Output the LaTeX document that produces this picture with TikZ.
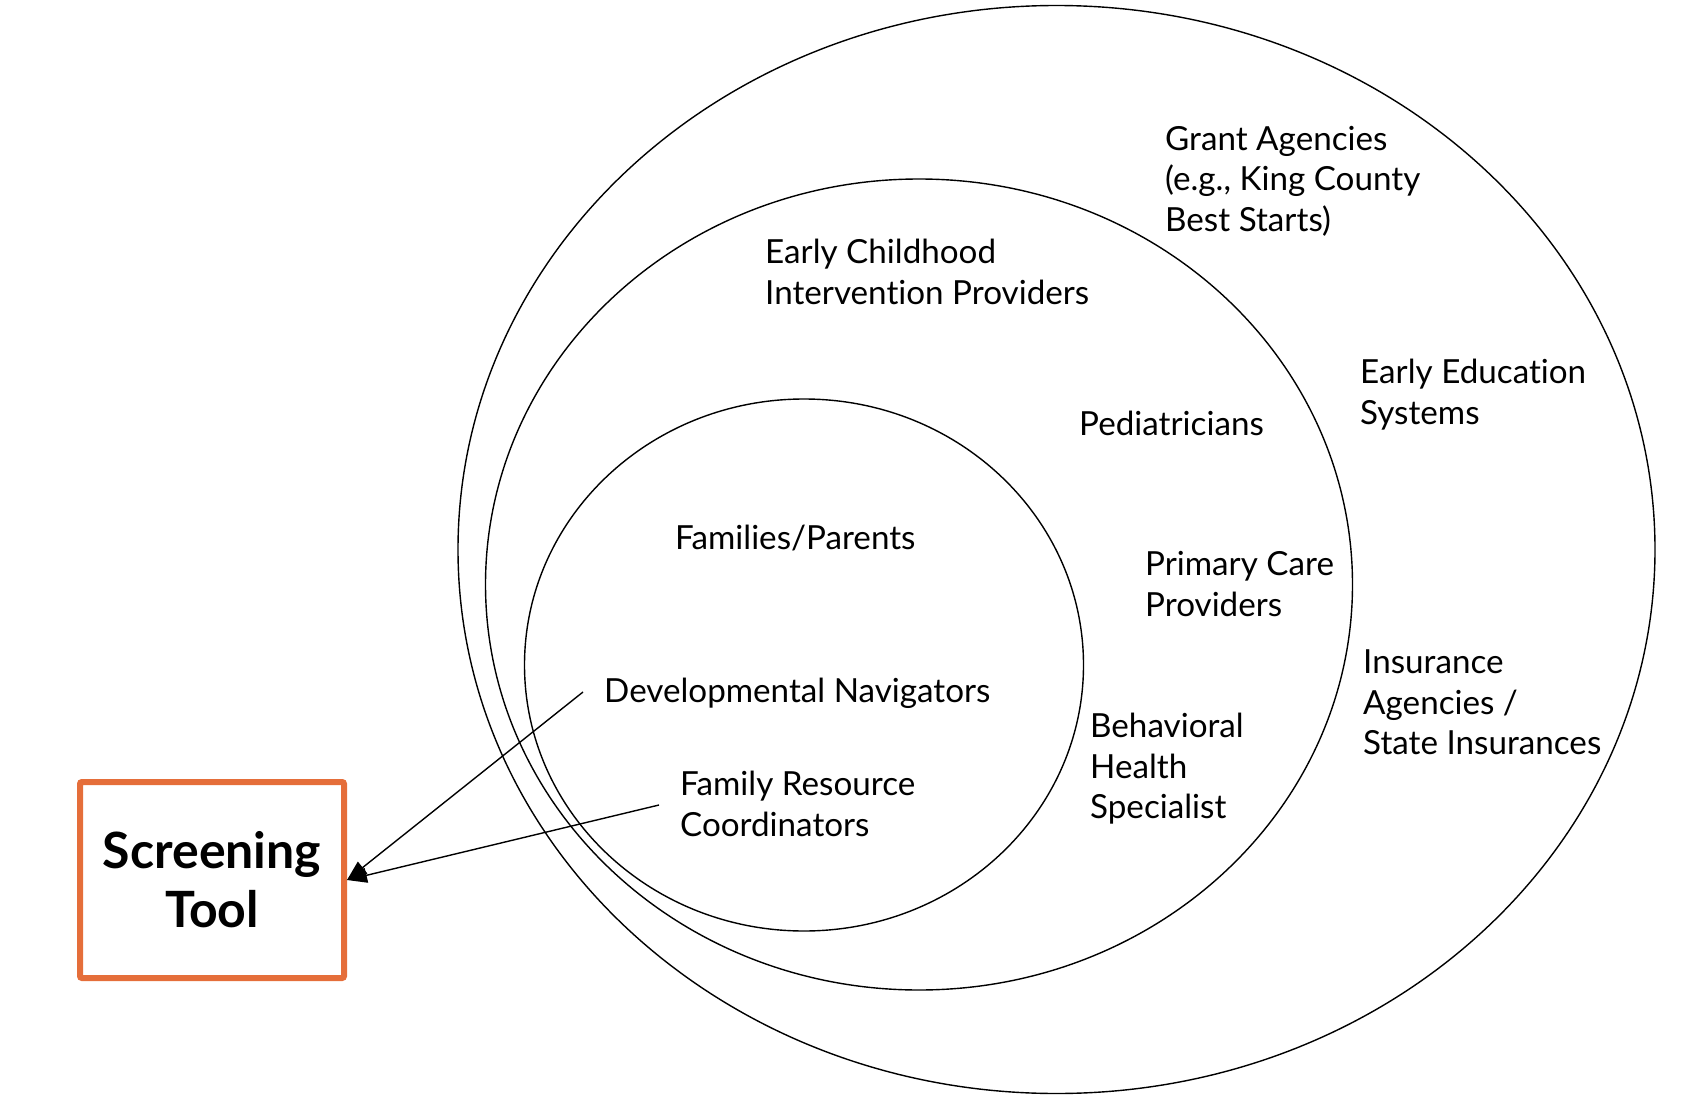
\documentclass[tikz,border=0pt]{standalone}
\usepackage{fontspec}
\setmainfont[Ligatures=NoCommon]{Lato}
\usetikzlibrary{arrows.meta}
\definecolor{boxorange}{RGB}{229,110,58}
\tikzset{
  ring/.style={draw=black, line width=1.4pt},
  lbl/.style={anchor=base west, align=left, inner sep=0pt, font=\fontsize{33.2}{40.5}\selectfont},
  toolbox/.style={draw=boxorange, line width=6pt, rounded corners=2pt, minimum width=264pt, minimum height=196pt, inner sep=0pt, align=center, font=\fontsize{50}{59}\selectfont\bfseries},
  link/.style={draw=black, line width=1.4pt, -{Triangle[length=20pt,width=15pt]}}
}
\begin{document}
\begin{tikzpicture}[x=1pt,y=-1pt]
\useasboundingbox (0,0) rectangle (1682,1108);
% ellipses
\draw[ring] (1056.5,549.5) ellipse [x radius=598.5, y radius=544];
\draw[ring] (919,584.5) ellipse [x radius=433.5, y radius=405.5];
\draw[ring] (804,665) ellipse [x radius=279.5, y radius=266];
% labels (base = baseline of last line)
\node[lbl] (grant) at (1165,231) {Grant Agencies\\(e.g., King County\\Best Starts)};
\node[lbl] (eci) at (765,304) {Early Childhood\\Intervention Providers};
\node[lbl] (ees) at (1360,424) {Early Education\\Systems};
\node[lbl] (ped) at (1079,435.5) {Pediatricians};
\node[lbl] (fam) at (675,549.5) {Families/Parents};
\node[lbl] (pcp) at (1145,616) {Primary Care\\Providers};
\node[lbl] (ins) at (1363,754.5) {Insurance\\Agencies /\\State Insurances};
\node[lbl] (dev) at (604,702.7) {Developmental Navigators};
\node[lbl] (bhs) at (1090,818.5) {Behavioral\\Health\\Specialist};
\node[lbl] (frc) at (680,836) {Family Resource\\Coordinators};
% screening tool box
\node[toolbox] (tool) at (212,880) {Screening\\Tool};
% connectors
\coordinate (devend) at (583,692);
\coordinate (frcend) at (659,805);
\draw[link] (devend) -- (tool.east);
\draw[link] (frcend) -- (tool.east);
\end{tikzpicture}
\end{document}
